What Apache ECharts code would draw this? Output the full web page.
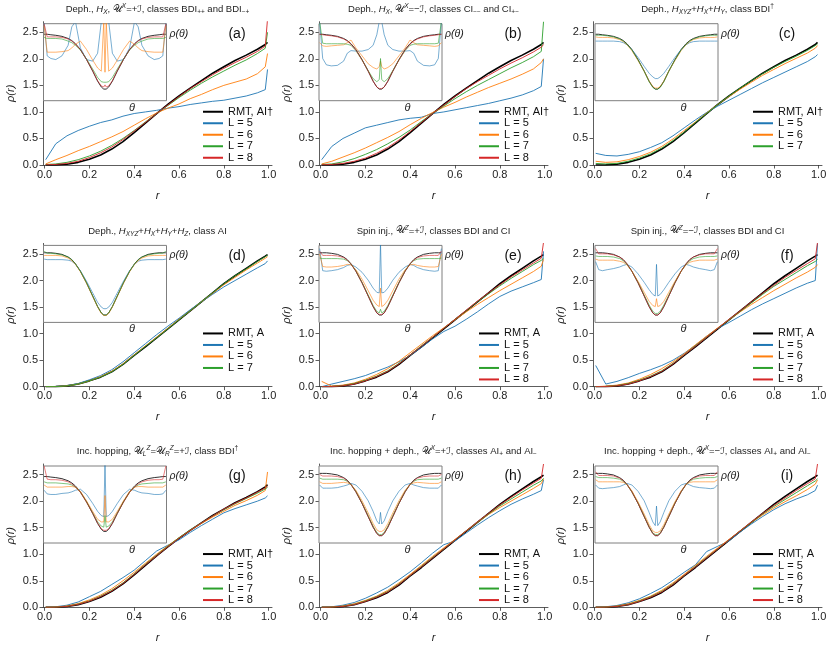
<!DOCTYPE html>
<html>
<head>
<meta charset="utf-8">
<script src="https://cdn.jsdelivr.net/npm/echarts@6/dist/echarts.min.js"></script>
<style>
  html, body { margin: 0; padding: 0; background: #fff; }
  #chart { width: 830px; height: 647px; }
</style>
</head>
<body>
<div id="chart"></div>
<script>
// r grid of the main panels, theta grid (left half) of the insets
const rGrid = [0.005, 0.05, 0.1, 0.15, 0.2, 0.25, 0.3, 0.35, 0.4, 0.45, 0.5, 0.55, 0.6, 0.65, 0.7, 0.75, 0.8, 0.85, 0.9, 0.95, 0.985, 0.995];
const thetaHalf = [0.005, 0.03, 0.06, 0.1, 0.15, 0.2, 0.23, 0.26, 0.3, 0.35, 0.4, 0.44, 0.47, 0.49, 0.5];
const xTicks = [0, 0.2, 0.4, 0.6, 0.8, 1.0];
const yTicks = [0, 0.5, 1.0, 1.5, 2.0, 2.5];

// RMT reference curves
const rmtAIdag = [0, 0.002, 0.015, 0.05, 0.11, 0.19, 0.3, 0.44, 0.61, 0.79, 0.97, 1.14, 1.3, 1.45, 1.59, 1.73, 1.85, 1.97, 2.07, 2.18, 2.27, 2.31];
const rmtA = [0, 0.002, 0.015, 0.05, 0.11, 0.18, 0.28, 0.42, 0.59, 0.75, 0.92, 1.09, 1.26, 1.43, 1.6, 1.77, 1.94, 2.09, 2.23, 2.37, 2.46, 2.49];
const insetRmtAIdag = [2.46, 2.46, 2.45, 2.44, 2.42, 2.38, 2.34, 2.28, 2.17, 1.98, 1.76, 1.57, 1.46, 1.42, 1.41];
const insetRmtA = [2.52, 2.52, 2.52, 2.51, 2.49, 2.44, 2.39, 2.31, 2.17, 1.95, 1.7, 1.5, 1.38, 1.34, 1.33];

// (a)
const aL5 = [0.1, 0.4, 0.55, 0.65, 0.73, 0.8, 0.85, 0.92, 0.97, 1.0, 1.03, 1.07, 1.1, 1.14, 1.17, 1.2, 1.22, 1.26, 1.3, 1.36, 1.42, 1.8];
const aL6 = [0.02, 0.1, 0.18, 0.27, 0.35, 0.44, 0.53, 0.63, 0.75, 0.87, 0.98, 1.07, 1.15, 1.25, 1.33, 1.42, 1.5, 1.56, 1.62, 1.72, 1.85, 2.1];
const aL7 = [0.01, 0.02, 0.05, 0.1, 0.17, 0.26, 0.37, 0.5, 0.65, 0.81, 0.97, 1.12, 1.27, 1.41, 1.54, 1.66, 1.77, 1.88, 1.98, 2.1, 2.2, 2.5];
const aL8 = [0.005, 0.01, 0.03, 0.07, 0.14, 0.23, 0.34, 0.48, 0.64, 0.8, 0.97, 1.13, 1.29, 1.44, 1.57, 1.7, 1.82, 1.93, 2.03, 2.14, 2.24, 2.75];
const aT5 = [2.7, 2.05, 2.0, 1.98, 2.05, 2.25, 2.6, 2.7, 2.2, 1.98, 1.95, 2.1, 2.7, 2.7, 2.7];
const aT6 = [2.62, 2.12, 2.12, 2.12, 2.13, 2.15, 2.2, 2.27, 2.33, 2.17, 1.97, 1.82, 1.76, 2.7, 1.74];
const aT7 = [2.4, 2.38, 2.38, 2.38, 2.37, 2.33, 2.3, 2.25, 2.16, 1.99, 1.8, 1.64, 1.56, 1.55, 1.58];
const aT8 = [2.66, 2.41, 2.41, 2.41, 2.4, 2.37, 2.33, 2.27, 2.17, 1.98, 1.77, 1.58, 1.48, 1.46, 1.5];
// (b)
const bL5 = [0.1, 0.35, 0.5, 0.6, 0.7, 0.75, 0.8, 0.85, 0.88, 0.9, 0.97, 1.0, 1.04, 1.08, 1.12, 1.16, 1.21, 1.26, 1.32, 1.4, 1.48, 2.0];
const bL6 = [0.02, 0.07, 0.15, 0.23, 0.32, 0.42, 0.52, 0.63, 0.76, 0.88, 0.99, 1.09, 1.18, 1.28, 1.37, 1.46, 1.54, 1.62, 1.71, 1.81, 1.93, 2.0];
const bL7 = [0.01, 0.02, 0.06, 0.12, 0.2, 0.29, 0.4, 0.52, 0.66, 0.82, 0.97, 1.11, 1.25, 1.38, 1.5, 1.61, 1.72, 1.83, 1.93, 2.04, 2.14, 2.7];
const bL8 = [0.005, 0.01, 0.03, 0.07, 0.13, 0.22, 0.33, 0.47, 0.63, 0.8, 0.97, 1.13, 1.29, 1.44, 1.57, 1.69, 1.81, 1.92, 2.02, 2.13, 2.22, 2.27];
const bT5 = [2.7, 2.0, 1.88, 1.86, 1.87, 1.95, 2.1, 2.15, 2.14, 2.14, 2.17, 2.25, 2.45, 2.7, 2.7];
const bT6 = [2.3, 2.24, 2.23, 2.24, 2.25, 2.26, 2.3, 2.35, 2.2, 2.05, 1.9, 1.83, 1.8, 1.85, 1.95];
const bT7 = [2.7, 2.29, 2.28, 2.28, 2.28, 2.28, 2.27, 2.25, 2.15, 1.97, 1.77, 1.62, 1.56, 1.6, 2.0];
const bT8 = [2.46, 2.45, 2.44, 2.43, 2.41, 2.37, 2.33, 2.27, 2.16, 1.97, 1.76, 1.57, 1.46, 1.43, 1.45];
// (c)
const cL5 = [0.22, 0.18, 0.17, 0.2, 0.25, 0.33, 0.42, 0.55, 0.7, 0.85, 0.99, 1.11, 1.22, 1.33, 1.44, 1.55, 1.65, 1.75, 1.85, 1.95, 2.04, 2.08];
const cL6 = [0.07, 0.05, 0.06, 0.1, 0.16, 0.24, 0.35, 0.49, 0.65, 0.81, 0.98, 1.14, 1.29, 1.43, 1.56, 1.69, 1.8, 1.91, 2.01, 2.11, 2.2, 2.25];
const cL7 = [0.03, 0.02, 0.03, 0.07, 0.13, 0.21, 0.32, 0.46, 0.62, 0.8, 0.97, 1.14, 1.3, 1.45, 1.59, 1.72, 1.84, 1.95, 2.05, 2.16, 2.25, 2.28];
const cT5 = [2.33, 2.33, 2.33, 2.33, 2.33, 2.32, 2.3, 2.26, 2.17, 2.02, 1.85, 1.72, 1.65, 1.62, 1.62];
const cT6 = [2.41, 2.4, 2.4, 2.4, 2.39, 2.36, 2.32, 2.26, 2.15, 1.96, 1.76, 1.57, 1.47, 1.44, 1.44];
const cT7 = [2.44, 2.44, 2.44, 2.43, 2.41, 2.37, 2.33, 2.27, 2.16, 1.97, 1.76, 1.56, 1.45, 1.42, 1.41];
// (d)
const dL5 = [0, 0.005, 0.02, 0.06, 0.13, 0.21, 0.32, 0.47, 0.64, 0.81, 0.98, 1.14, 1.29, 1.45, 1.6, 1.74, 1.88, 2.0, 2.12, 2.24, 2.32, 2.37];
const dL6 = [0, 0.003, 0.017, 0.05, 0.11, 0.19, 0.29, 0.43, 0.6, 0.77, 0.93, 1.1, 1.27, 1.43, 1.6, 1.76, 1.92, 2.06, 2.2, 2.33, 2.42, 2.45];
const dL7 = [0, 0.002, 0.015, 0.05, 0.11, 0.18, 0.28, 0.42, 0.59, 0.76, 0.92, 1.09, 1.26, 1.43, 1.6, 1.77, 1.94, 2.09, 2.22, 2.36, 2.45, 2.48];
const dT5 = [2.4, 2.39, 2.39, 2.39, 2.39, 2.38, 2.36, 2.3, 2.18, 1.98, 1.76, 1.58, 1.49, 1.46, 1.45];
const dT6 = [2.47, 2.47, 2.47, 2.47, 2.46, 2.42, 2.37, 2.3, 2.16, 1.94, 1.69, 1.49, 1.37, 1.33, 1.32];
const dT7 = [2.55, 2.51, 2.51, 2.5, 2.48, 2.44, 2.39, 2.31, 2.17, 1.95, 1.7, 1.5, 1.38, 1.34, 1.33];
// (e)
const eL5 = [0, 0.05, 0.1, 0.15, 0.21, 0.29, 0.37, 0.47, 0.59, 0.74, 0.9, 1.04, 1.14, 1.27, 1.41, 1.56, 1.7, 1.8, 1.88, 1.96, 2.02, 2.55];
const eL6 = [0.1, 0.01, 0.03, 0.07, 0.14, 0.23, 0.34, 0.48, 0.64, 0.8, 0.96, 1.11, 1.26, 1.41, 1.55, 1.68, 1.81, 1.93, 2.05, 2.17, 2.27, 2.4];
const eL7 = [0, 0.005, 0.02, 0.06, 0.12, 0.2, 0.3, 0.44, 0.6, 0.77, 0.93, 1.1, 1.27, 1.43, 1.6, 1.75, 1.9, 2.04, 2.17, 2.3, 2.38, 2.42];
const eL8 = [0, 0.003, 0.017, 0.05, 0.11, 0.19, 0.29, 0.43, 0.6, 0.76, 0.93, 1.1, 1.27, 1.44, 1.61, 1.77, 1.92, 2.07, 2.2, 2.33, 2.42, 2.72];
const eT5 = [2.6, 2.18, 2.17, 2.18, 2.2, 2.24, 2.28, 2.3, 2.25, 2.15, 2.0, 1.85, 1.77, 1.76, 2.7];
const eT6 = [2.5, 2.26, 2.25, 2.25, 2.26, 2.28, 2.3, 2.29, 2.2, 2.02, 1.8, 1.62, 1.53, 1.5, 1.85];
const eT7 = [2.42, 2.41, 2.41, 2.41, 2.41, 2.4, 2.37, 2.31, 2.18, 1.96, 1.72, 1.52, 1.41, 1.38, 1.45];
const eT8 = [2.55, 2.47, 2.47, 2.47, 2.46, 2.43, 2.38, 2.31, 2.17, 1.95, 1.7, 1.5, 1.38, 1.35, 1.36];
// (f)
const fL5 = [0.4, 0.05, 0.1, 0.17, 0.25, 0.32, 0.4, 0.5, 0.63, 0.78, 0.95, 1.1, 1.21, 1.33, 1.45, 1.56, 1.66, 1.76, 1.86, 1.95, 2.0, 2.7];
const fL6 = [0, 0.01, 0.03, 0.07, 0.14, 0.23, 0.34, 0.47, 0.62, 0.79, 0.95, 1.11, 1.26, 1.41, 1.55, 1.68, 1.81, 1.93, 2.05, 2.16, 2.25, 2.3];
const fL7 = [0, 0.005, 0.02, 0.06, 0.12, 0.2, 0.3, 0.44, 0.6, 0.77, 0.93, 1.1, 1.26, 1.42, 1.58, 1.74, 1.89, 2.02, 2.15, 2.28, 2.36, 2.4];
const fL8 = [0, 0.003, 0.017, 0.05, 0.11, 0.19, 0.29, 0.43, 0.6, 0.76, 0.93, 1.1, 1.27, 1.43, 1.6, 1.76, 1.91, 2.06, 2.19, 2.32, 2.41, 2.72];
const fT5 = [2.35, 2.2, 2.18, 2.2, 2.22, 2.25, 2.28, 2.3, 2.25, 2.12, 1.96, 1.82, 1.73, 1.7, 2.3];
const fT6 = [2.4, 2.38, 2.38, 2.38, 2.38, 2.36, 2.34, 2.29, 2.17, 1.98, 1.77, 1.6, 1.52, 1.5, 1.65];
const fT7 = [2.46, 2.45, 2.45, 2.45, 2.44, 2.41, 2.37, 2.3, 2.17, 1.96, 1.72, 1.53, 1.41, 1.37, 1.37];
const fT8 = [2.6, 2.5, 2.5, 2.5, 2.48, 2.44, 2.39, 2.31, 2.17, 1.95, 1.7, 1.5, 1.38, 1.34, 1.34];
// (g)
const gL5 = [0, 0.01, 0.04, 0.1, 0.2, 0.3, 0.43, 0.56, 0.7, 0.88, 1.06, 1.17, 1.27, 1.41, 1.54, 1.66, 1.78, 1.86, 1.93, 2.0, 2.06, 2.1];
const gL6 = [0, 0.005, 0.025, 0.07, 0.14, 0.23, 0.35, 0.5, 0.66, 0.83, 1.0, 1.16, 1.31, 1.45, 1.58, 1.7, 1.81, 1.92, 2.01, 2.11, 2.2, 2.55];
const gL7 = [0, 0.003, 0.02, 0.06, 0.12, 0.21, 0.32, 0.46, 0.63, 0.81, 0.98, 1.15, 1.31, 1.46, 1.59, 1.72, 1.84, 1.95, 2.05, 2.15, 2.23, 2.26];
const gL8 = [0, 0.002, 0.017, 0.055, 0.115, 0.2, 0.31, 0.45, 0.62, 0.8, 0.97, 1.14, 1.3, 1.45, 1.59, 1.72, 1.85, 1.96, 2.06, 2.17, 2.25, 2.28];
const gT5 = [2.2, 2.13, 2.12, 2.12, 2.14, 2.15, 2.17, 2.2, 2.22, 2.12, 1.95, 1.8, 1.72, 1.7, 2.7];
const gT6 = [2.3, 2.26, 2.26, 2.26, 2.26, 2.27, 2.27, 2.26, 2.18, 2.0, 1.8, 1.65, 1.6, 1.6, 2.1];
const gT7 = [2.36, 2.34, 2.34, 2.34, 2.33, 2.32, 2.3, 2.26, 2.16, 1.98, 1.77, 1.6, 1.52, 1.5, 1.72];
const gT8 = [2.66, 2.41, 2.4, 2.4, 2.39, 2.36, 2.32, 2.26, 2.16, 1.97, 1.76, 1.58, 1.47, 1.44, 1.47];
// (h)
const hL5 = [0, 0.01, 0.04, 0.09, 0.17, 0.27, 0.38, 0.52, 0.67, 0.84, 1.02, 1.18, 1.25, 1.4, 1.55, 1.69, 1.82, 1.94, 2.04, 2.13, 2.2, 2.4];
const hL6 = [0, 0.005, 0.025, 0.065, 0.13, 0.21, 0.32, 0.46, 0.62, 0.79, 0.96, 1.12, 1.28, 1.44, 1.6, 1.75, 1.88, 2.0, 2.12, 2.24, 2.33, 2.42];
const hL7 = [0, 0.003, 0.02, 0.055, 0.12, 0.2, 0.3, 0.44, 0.6, 0.77, 0.94, 1.1, 1.27, 1.44, 1.6, 1.76, 1.91, 2.04, 2.17, 2.3, 2.38, 2.43];
const hL8 = [0, 0.002, 0.017, 0.05, 0.11, 0.19, 0.29, 0.43, 0.6, 0.76, 0.93, 1.1, 1.27, 1.44, 1.61, 1.77, 1.93, 2.07, 2.21, 2.34, 2.43, 2.7];
const hT5 = [2.3, 2.24, 2.24, 2.24, 2.25, 2.28, 2.3, 2.33, 2.3, 2.18, 2.0, 1.8, 1.62, 1.56, 1.78];
const hT6 = [2.36, 2.33, 2.33, 2.33, 2.34, 2.35, 2.34, 2.31, 2.2, 2.0, 1.77, 1.57, 1.45, 1.42, 1.43];
const hT7 = [2.43, 2.41, 2.41, 2.41, 2.41, 2.4, 2.37, 2.31, 2.18, 1.96, 1.72, 1.52, 1.4, 1.36, 1.37];
const hT8 = [2.5, 2.47, 2.47, 2.47, 2.46, 2.43, 2.38, 2.31, 2.17, 1.95, 1.7, 1.5, 1.38, 1.34, 1.35];
// (i)
const iL5 = [0, 0.01, 0.035, 0.085, 0.16, 0.26, 0.37, 0.51, 0.66, 0.8, 1.05, 1.15, 1.25, 1.42, 1.57, 1.71, 1.84, 1.95, 2.04, 2.12, 2.2, 2.3];
const iL6 = [0, 0.005, 0.025, 0.065, 0.13, 0.21, 0.32, 0.46, 0.62, 0.79, 0.96, 1.12, 1.28, 1.44, 1.6, 1.74, 1.87, 1.99, 2.1, 2.22, 2.32, 2.4];
const iL7 = [0, 0.003, 0.02, 0.055, 0.12, 0.2, 0.3, 0.44, 0.6, 0.77, 0.94, 1.1, 1.27, 1.44, 1.6, 1.76, 1.9, 2.03, 2.16, 2.29, 2.38, 2.42];
const iL8 = [0, 0.002, 0.017, 0.05, 0.11, 0.19, 0.29, 0.43, 0.6, 0.76, 0.93, 1.1, 1.27, 1.44, 1.61, 1.77, 1.92, 2.06, 2.2, 2.33, 2.42, 2.7];
const iT5 = [2.3, 2.24, 2.23, 2.24, 2.25, 2.27, 2.3, 2.33, 2.3, 2.18, 2.0, 1.78, 1.6, 1.53, 1.9];
const iT6 = [2.4, 2.36, 2.36, 2.36, 2.36, 2.36, 2.35, 2.31, 2.19, 1.98, 1.75, 1.55, 1.43, 1.4, 1.42];
const iT7 = [2.46, 2.44, 2.44, 2.44, 2.43, 2.41, 2.37, 2.31, 2.17, 1.96, 1.71, 1.51, 1.39, 1.36, 1.37];
const iT8 = [2.55, 2.48, 2.48, 2.48, 2.47, 2.43, 2.38, 2.31, 2.17, 1.95, 1.7, 1.5, 1.38, 1.34, 1.34];

const lNames = ['L = 5', 'L = 6', 'L = 7', 'L = 8'];
const lColors = ['#1f77b4', '#ff7f0e', '#2ca02c', '#d62728'];

const panels = [
  { tag: '(a)', rmt: 'RMT, AI†', r0: rmtAIdag, t0: insetRmtAIdag, L: [aL5, aL6, aL7, aL8], T: [aT5, aT6, aT7, aT8],
    title: '{t|Deph., }{i|H}{bi|X}{t|, }{u|𝒰}{pi|X}{t|=+}{u|ℐ}{t|, classes BDI}{b|++}{t| and BDI}{b|−+}' },
  { tag: '(b)', rmt: 'RMT, AI†', r0: rmtAIdag, t0: insetRmtAIdag, L: [bL5, bL6, bL7, bL8], T: [bT5, bT6, bT7, bT8],
    title: '{t|Deph., }{i|H}{bi|X}{t|, }{u|𝒰}{pi|X}{t|=−}{u|ℐ}{t|, classes CI}{b|−−}{t| and CI}{b|+−}' },
  { tag: '(c)', rmt: 'RMT, AI†', r0: rmtAIdag, t0: insetRmtAIdag, L: [cL5, cL6, cL7], T: [cT5, cT6, cT7],
    title: '{t|Deph., }{i|H}{bi|XYZ}{t|+}{i|H}{bi|X}{t|+}{i|H}{bi|Y}{t|, class BDI}{p|†}' },
  { tag: '(d)', rmt: 'RMT, A', r0: rmtA, t0: insetRmtA, L: [dL5, dL6, dL7], T: [dT5, dT6, dT7],
    title: '{t|Deph., }{i|H}{bi|XYZ}{t|+}{i|H}{bi|X}{t|+}{i|H}{bi|Y}{t|+}{i|H}{bi|Z}{t|, class AI}' },
  { tag: '(e)', rmt: 'RMT, A', r0: rmtA, t0: insetRmtA, L: [eL5, eL6, eL7, eL8], T: [eT5, eT6, eT7, eT8],
    title: '{t|Spin inj., }{u|𝒰}{pi|Z}{t|=+}{u|ℐ}{t|, classes BDI and CI}' },
  { tag: '(f)', rmt: 'RMT, A', r0: rmtA, t0: insetRmtA, L: [fL5, fL6, fL7, fL8], T: [fT5, fT6, fT7, fT8],
    title: '{t|Spin inj., }{u|𝒰}{pi|Z}{t|=−}{u|ℐ}{t|, classes BDI and CI}' },
  { tag: '(g)', rmt: 'RMT, AI†', r0: rmtAIdag, t0: insetRmtAIdag, L: [gL5, gL6, gL7, gL8], T: [gT5, gT6, gT7, gT8],
    title: '{t|Inc. hopping, }{u|𝒰}{bi|L}{pi|Z}{t|=}{u|𝒰}{bi|R}{pi|Z}{t|=+}{u|ℐ}{t|, class BDI}{p|†}' },
  { tag: '(h)', rmt: 'RMT, A', r0: rmtA, t0: insetRmtA, L: [hL5, hL6, hL7, hL8], T: [hT5, hT6, hT7, hT8],
    title: '{t|Inc. hopping + deph., }{u|𝒰}{pi|X}{t|=+}{u|ℐ}{t|, classes AI}{b|+}{t| and AI}{b|−}' },
  { tag: '(i)', rmt: 'RMT, A', r0: rmtA, t0: insetRmtA, L: [iL5, iL6, iL7, iL8], T: [iT5, iT6, iT7, iT8],
    title: '{t|Inc. hopping + deph., }{u|𝒰}{pi|X}{t|=−}{u|ℐ}{t|, classes AI}{b|+}{t| and AI}{b|−}' }
];

// layout
const colLeft = [43, 319, 593];
const rowTop = [21.7, 243.4, 464];
const gridW = 229, gridH = 143.3;
const insetLeft = [43.5, 319, 595];
const insetW = 123, insetH = 77;

const FONT = 'Liberation Sans';
const titleRich = {
  t: { fontSize: 9.5, fontFamily: FONT, lineHeight: 13, verticalAlign: 'middle' },
  i: { fontSize: 9.5, fontFamily: FONT, fontStyle: 'italic', lineHeight: 13, verticalAlign: 'middle' },
  u: { fontSize: 9.5, fontFamily: 'DejaVu Sans', lineHeight: 13, verticalAlign: 'middle' },
  b: { fontSize: 6.5, fontFamily: FONT, lineHeight: 13, verticalAlign: 'bottom' },
  bi: { fontSize: 6.5, fontFamily: FONT, fontStyle: 'italic', lineHeight: 13, verticalAlign: 'bottom' },
  p: { fontSize: 6.5, fontFamily: FONT, lineHeight: 13, verticalAlign: 'top' },
  pi: { fontSize: 6.5, fontFamily: FONT, fontStyle: 'italic', lineHeight: 13, verticalAlign: 'top' }
};

const thetaFull = thetaHalf.concat(thetaHalf.slice(0, -1).reverse().map(t => 1 - t));
function mirror(half) { return half.concat(half.slice(0, -1).reverse()); }

const grid = [], xAxis = [], yAxis = [], series = [], legend = [], graphic = [];

panels.forEach((p, k) => {
  const col = k % 3, row = Math.floor(k / 3);
  const gl = colLeft[col], gt = rowTop[row];
  const mi = 2 * k, ii = 2 * k + 1;

  grid.push({ left: gl, top: gt, width: gridW, height: gridH });
  grid.push({ left: insetLeft[col], top: gt + 2, width: insetW, height: insetH, show: true,
    borderColor: '#7f7f7f', borderWidth: 1, backgroundColor: '#fff', z: 3 });

  xAxis.push({
    type: 'value', gridIndex: mi, min: -0.007, max: 1.015,
    name: 'r', nameLocation: 'middle', nameGap: 25,
    nameTextStyle: { fontFamily: FONT, fontSize: 11, fontStyle: 'italic', color: '#222' },
    axisLine: { onZero: false, lineStyle: { color: '#333', width: 0.8 } },
    axisTick: { customValues: xTicks, length: 3.5, lineStyle: { color: '#333', width: 0.8 } },
    axisLabel: { customValues: xTicks, formatter: v => v.toFixed(1), margin: 4,
      fontFamily: FONT, fontSize: 11, color: '#222' },
    splitLine: { show: false }
  });
  yAxis.push({
    type: 'value', gridIndex: mi, min: 0, max: 2.7,
    name: 'ρ(r)', nameLocation: 'middle', nameGap: 27, nameRotate: 90,
    nameTextStyle: { fontFamily: FONT, fontSize: 11, fontStyle: 'italic', color: '#222' },
    axisLine: { show: true, onZero: false, lineStyle: { color: '#333', width: 0.8 } },
    axisTick: { show: true, customValues: yTicks, length: 3.5, lineStyle: { color: '#333', width: 0.8 } },
    axisLabel: { customValues: yTicks, formatter: v => v.toFixed(1), margin: 5,
      fontFamily: FONT, fontSize: 11, color: '#222' },
    splitLine: { show: false }
  });
  xAxis.push({ type: 'value', gridIndex: ii, min: 0, max: 1, show: false });
  yAxis.push({ type: 'value', gridIndex: ii, min: 1.2, max: 2.66, show: false });

  // main panel
  series.push({
    type: 'line', name: p.rmt, xAxisIndex: mi, yAxisIndex: mi,
    data: rGrid.map((x, i) => [x, p.r0[i]]),
    showSymbol: false, symbol: 'none', silent: true, z: 2,
    lineStyle: { color: '#000', width: 1.6 }, itemStyle: { color: '#000' }
  });
  p.L.forEach((ys, j) => {
    series.push({
      type: 'line', name: lNames[j], xAxisIndex: mi, yAxisIndex: mi,
      data: rGrid.map((x, i) => [x, ys[i]]),
      showSymbol: false, symbol: 'none', silent: true, z: 2,
      lineStyle: { color: lColors[j], width: 1, opacity: 0.9 }, itemStyle: { color: lColors[j] }
    });
  });

  // inset
  series.push({
    type: 'line', name: 'inset rmt', xAxisIndex: ii, yAxisIndex: ii,
    data: thetaFull.map((x, i) => [x, mirror(p.t0)[i]]),
    showSymbol: false, symbol: 'none', silent: true, z: 4,
    lineStyle: { color: '#333', width: 1 }
  });
  p.T.forEach((half, j) => {
    const ys = mirror(half);
    series.push({
      type: 'line', name: 'inset ' + j, xAxisIndex: ii, yAxisIndex: ii,
      data: thetaFull.map((x, i) => [x, ys[i]]),
      showSymbol: false, symbol: 'none', silent: true, z: 4,
      lineStyle: { color: lColors[j], width: 0.8, opacity: 0.75 }
    });
  });

  legend.push({
    data: [p.rmt].concat(lNames.slice(0, p.L.length)),
    orient: 'vertical', left: gl + 155, top: gt + gridH - 64,
    icon: 'rect', itemWidth: 20, itemHeight: 2, itemGap: 0, selectedMode: false,
    textStyle: { fontFamily: FONT, fontSize: 11, lineHeight: 11.5, color: '#111', padding: [0, 0, 0, 0] }
  });

  graphic.push({
    type: 'text', x: gl + gridW / 2, y: gt - 12.5, silent: true,
    style: { text: p.title, rich: titleRich, fill: '#222', align: 'center', verticalAlign: 'middle' }
  });
  graphic.push({
    type: 'text', x: gl + 194, y: gt + 12.5, silent: true,
    style: { text: p.tag, fill: '#111', font: '14px "' + FONT + '"', align: 'center', verticalAlign: 'middle' }
  });
  graphic.push({
    type: 'text', x: insetLeft[col] + insetW + 3, y: gt + 12, silent: true, z: 10,
    style: { text: 'ρ(θ)', fill: '#222', font: 'italic 10.5px "' + FONT + '"', align: 'left', verticalAlign: 'middle' }
  });
  graphic.push({
    type: 'text', x: insetLeft[col] + 0.72 * insetW, y: gt + 2 + insetH + 7, silent: true, z: 10,
    style: { text: 'θ', fill: '#222', font: 'italic 11px "' + FONT + '"', align: 'center', verticalAlign: 'middle' }
  });
});

const chart = echarts.init(document.getElementById('chart'), null, { renderer: 'canvas' });
chart.setOption({
  animation: false,
  backgroundColor: '#fff',
  grid, xAxis, yAxis, series, legend, graphic
});
</script>
</body>
</html>
